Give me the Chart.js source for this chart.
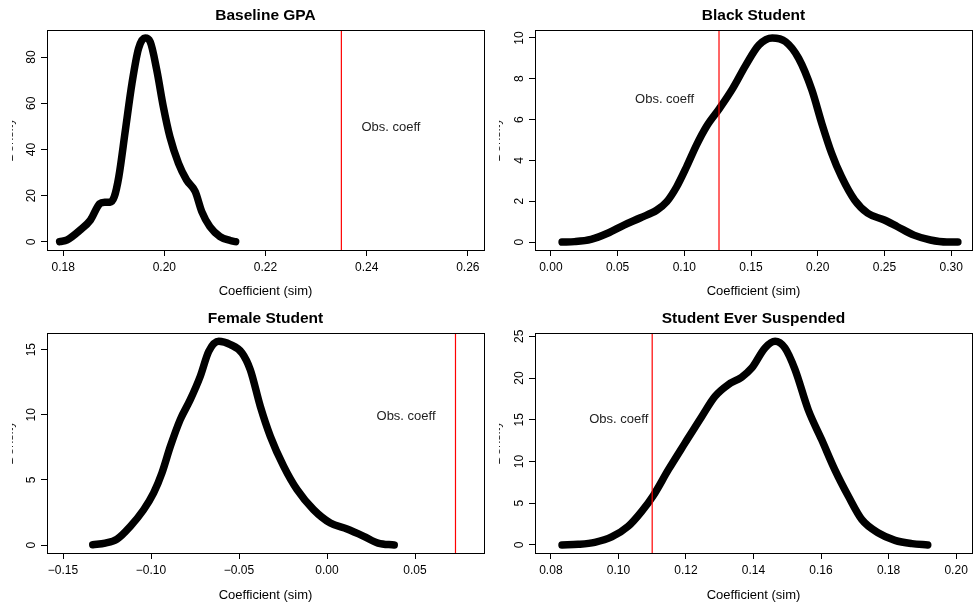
<!DOCTYPE html>
<html>
<head>
<meta charset="utf-8">
<script src="https://cdn.jsdelivr.net/npm/chart.js@4"></script>
<style>
  body { margin: 0; background: #fff; }
  #wrap { position: relative; width: 974px; height: 607px; }
  canvas { position: absolute; }
</style>
</head>
<body>
<div id="wrap">
  <canvas id="c1" width="487" height="303" style="left:0;top:0"></canvas>
  <canvas id="c2" width="487" height="303" style="left:487px;top:0"></canvas>
  <canvas id="c3" width="487" height="304" style="left:0;top:303px"></canvas>
  <canvas id="c4" width="487" height="304" style="left:487px;top:303px"></canvas>
</div>
<script>
// panel titles and observed coefficients
const titles = ['Baseline GPA', 'Black Student', 'Female Student', 'Student Ever Suspended'];
const obsCoeff = [0.235, 0.126, 0.073, 0.110];
const obsLabelX = [0.2448, 0.0852, 0.0449, 0.1001];
const obsLabelY = [49.7, 7.0, 9.9, 15.0];

// simulated coefficient densities
const gpaX = [0.1793, 0.1808, 0.1834, 0.1854, 0.1872, 0.1882, 0.1893, 0.1901, 0.1910, 0.1923, 0.1936, 0.1949, 0.1962, 0.1972, 0.1985, 0.1998, 0.2011, 0.2028, 0.2044, 0.2061, 0.2074, 0.2090, 0.2110, 0.2130, 0.2141];
const gpaY = [0.1, 0.9, 5.2, 9.5, 16.5, 17.2, 17.2, 19.5, 28.2, 48.4, 68.6, 83.7, 88.2, 86.6, 74.4, 58.5, 45.5, 34.0, 26.8, 21.8, 13.1, 6.6, 2.3, 0.6, 0.1];

const blackX = [0.0084, 0.0178, 0.0301, 0.0425, 0.0548, 0.0672, 0.0795, 0.0869, 0.0943, 0.1017, 0.1091, 0.1165, 0.1264, 0.1363, 0.1462, 0.1560, 0.1659, 0.1758, 0.1857, 0.1956, 0.2030, 0.2104, 0.2178, 0.2276, 0.2375, 0.2499, 0.2598, 0.2721, 0.2844, 0.2968, 0.3050];
const blackY = [0.0, 0.02, 0.13, 0.43, 0.83, 1.19, 1.57, 1.98, 2.71, 3.69, 4.75, 5.65, 6.55, 7.53, 8.68, 9.66, 10.0, 9.82, 9.0, 7.45, 5.82, 4.35, 3.2, 2.06, 1.41, 1.08, 0.75, 0.34, 0.1, 0.0, 0.0];

const femaleX = [-0.1331, -0.1260, -0.1193, -0.1118, -0.1042, -0.0985, -0.0938, -0.0890, -0.0834, -0.0777, -0.0720, -0.0672, -0.0615, -0.0549, -0.0483, -0.0436, -0.0379, -0.0322, -0.0246, -0.0170, -0.0076, 0.0019, 0.0114, 0.0209, 0.0290, 0.0382];
const femaleY = [0.02, 0.15, 0.46, 1.43, 2.71, 4.0, 5.53, 7.58, 9.63, 11.16, 12.96, 14.87, 15.64, 15.39, 14.75, 13.46, 10.65, 8.35, 6.04, 4.25, 2.71, 1.69, 1.23, 0.67, 0.15, 0.0];

const suspX = [0.0833, 0.0881, 0.0930, 0.0980, 0.1029, 0.1069, 0.1103, 0.1148, 0.1197, 0.1247, 0.1286, 0.1325, 0.1365, 0.1395, 0.1434, 0.1464, 0.1493, 0.1523, 0.1562, 0.1602, 0.1641, 0.1681, 0.1721, 0.1770, 0.1819, 0.1869, 0.1916];
const suspY = [0.0, 0.08, 0.32, 0.96, 2.24, 4.03, 5.9, 9.02, 12.2, 15.4, 17.8, 19.2, 20.1, 21.2, 23.6, 24.4, 23.6, 21.0, 16.2, 12.6, 9.0, 5.83, 3.03, 1.44, 0.56, 0.16, 0.0];

// axis limits and tick steps
const xLimits = [[0.1768, 0.2632], [-0.0119, 0.3156], [-0.1591, 0.0892], [0.0753, 0.2047]];
const yLimits = [[-3.5, 91.7], [-0.39, 10.39], [-0.61, 16.28], [-0.96, 25.39]];
const xTickStep = [0.02, 0.05, 0.05, 0.02];
const yTickStep = [20, 2, 5, 5];

const FONT = '"Liberation Sans", Arial, Helvetica, sans-serif';

function fmtX(v) {
  if (Math.abs(v) < 1e-9) v = 0;
  return v.toFixed(2).replace('-', '\u2212');
}

// title, box, label, and the clipped y title
function decor(i) {
  return {
    id: 'decor' + i,
    afterDraw(chart) {
      const ctx = chart.ctx, a = chart.chartArea;
      const sx = chart.scales.x, sy = chart.scales.y;
      ctx.save();
      ctx.strokeStyle = '#000';
      ctx.lineWidth = 1;
      ctx.strokeRect(Math.round(a.left) + 0.5, Math.round(a.top) + 0.5,
        Math.round(a.right - a.left), Math.round(a.bottom - a.top));

      ctx.fillStyle = '#000';
      ctx.textAlign = 'center';
      ctx.textBaseline = 'middle';
      ctx.font = 'bold 15.5px ' + FONT;
      ctx.fillText(titles[i], (a.left + a.right) / 2, 16);

      ctx.font = '13px ' + FONT;
      ctx.fillStyle = '#222';
      ctx.fillText('Obs. coeff', sx.getPixelForValue(obsLabelX[i]), sy.getPixelForValue(obsLabelY[i]));

      // y axis title sits off the left edge in the original, only a sliver shows
      ctx.beginPath();
      ctx.rect(12, a.top, 6, a.bottom - a.top);
      ctx.clip();
      ctx.translate(12.5, (a.top + a.bottom) / 2);
      ctx.rotate(-Math.PI / 2);
      ctx.textBaseline = 'alphabetic';
      ctx.fillText('Density', 0, 0);
      ctx.restore();
    }
  };
}

function makePanel(i, id, xs, ys, padRight, xHeight) {
  const curve = xs.map((x, k) => ({ x: x, y: ys[k] }));
  const obsLine = [{ x: obsCoeff[i], y: yLimits[i][0] }, { x: obsCoeff[i], y: yLimits[i][1] }];
  new Chart(document.getElementById(id), {
    type: 'scatter',
    data: {
      datasets: [
        {
          data: obsLine,
          showLine: true,
          borderColor: '#ff0000',
          borderWidth: 1.2,
          pointRadius: 0,
          order: 0
        },
        {
          data: curve,
          showLine: true,
          borderColor: '#000',
          borderWidth: 7.5,
          borderCapStyle: 'round',
          borderJoinStyle: 'round',
          cubicInterpolationMode: 'monotone',
          pointRadius: 0,
          order: 1
        }
      ]
    },
    options: {
      responsive: false,
      animation: false,
      events: [],
      layout: { padding: { top: 30, right: padRight, left: 0, bottom: 0 } },
      plugins: { legend: { display: false }, tooltip: { enabled: false } },
      scales: {
        x: {
          type: 'linear',
          min: xLimits[i][0],
          max: xLimits[i][1],
          afterFit(s) { s.height = xHeight; },
          border: { display: false },
          grid: { drawOnChartArea: false, tickLength: 6, color: '#000', tickWidth: 1 },
          ticks: {
            stepSize: xTickStep[i],
            includeBounds: false,
            autoSkip: false,
            maxRotation: 0,
            padding: 4,
            color: '#000',
            font: { family: FONT, size: 12 },
            callback: (v) => fmtX(v)
          },
          title: {
            display: true,
            text: 'Coefficient (sim)',
            color: '#000',
            font: { family: FONT, size: 13 },
            padding: { top: 0, bottom: 3.5 }
          }
        },
        y: {
          type: 'linear',
          min: yLimits[i][0],
          max: yLimits[i][1],
          afterFit(s) { s.width = 47 + (id === 'c2' || id === 'c4' ? 1 : 0); },
          border: { display: false },
          grid: { drawOnChartArea: false, tickLength: 6, color: '#000', tickWidth: 1 },
          ticks: {
            stepSize: yTickStep[i],
            includeBounds: false,
            autoSkip: false,
            minRotation: 90,
            maxRotation: 90,
            crossAlign: 'center',
            padding: 3,
            color: '#000',
            font: { family: FONT, size: 12 },
            callback: (v) => String(Math.round(v))
          }
        }
      }
    },
    plugins: [decor(i)]
  });
}

makePanel(0, 'c1', gpaX, gpaY, 3, 53);
makePanel(1, 'c2', blackX, blackY, 2, 53);
makePanel(2, 'c3', femaleX, femaleY, 3, 54);
makePanel(3, 'c4', suspX, suspY, 2, 54);
</script>
</body>
</html>
